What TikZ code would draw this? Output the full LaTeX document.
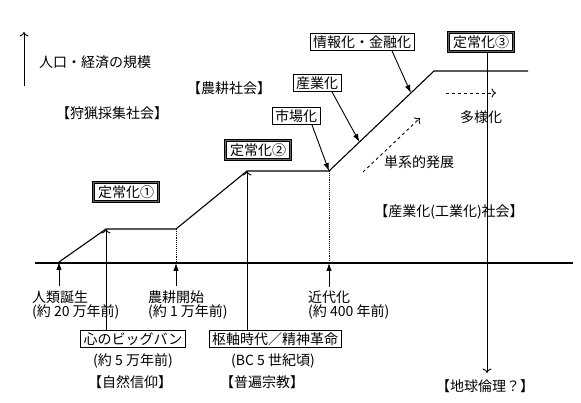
\documentclass[tikz,border=0pt]{standalone}
\usepackage{fontspec}
\setmainfont{Noto Sans CJK JP}
\usetikzlibrary{calc}
\usetikzlibrary{arrows.meta}
\tikzset{>=latex}
\tikzstyle{steady} = [draw, line width=.7pt, double=black!60, double distance=1.8pt, fill=white, inner xsep=4.5pt, inner ysep=3pt]
\tikzstyle{tag} = [draw, line width=.9pt, fill=white, inner xsep=3pt, inner ysep=2pt]
\tikzstyle{note} = [inner sep=0pt]
\tikzstyle{curve} = [line width=1.1pt]
\tikzstyle{guide} = [densely dotted, line width=.9pt]
\tikzstyle{pointer} = [-{Latex[length=8pt,width=5.5pt]}, line width=.9pt]
\tikzstyle{openptr} = [-{To[length=4.5pt,width=9pt]}, line width=.9pt]
\tikzstyle{trend} = [dashed, -{To[length=4.5pt,width=9pt]}, line width=.9pt]

\begin{document}
\begin{tikzpicture}[x=1pt, y=-1pt, font=\fontsize{14}{14.5}\selectfont]
    \useasboundingbox (0,0) rectangle (581,403);
    % growth curve
    \coordinate (p0) at (59,262);
    \coordinate (p1) at (106,229);
    \coordinate (p2) at (176,229);
    \coordinate (p3) at (247,171);
    \coordinate (p4) at (329,171);
    \coordinate (p5) at (434,71);
    \coordinate (p6) at (528,71);
    \coordinate (axL) at (35,263);
    \coordinate (axR) at (573,263);
    \coordinate (f2) at (176,263);
    \coordinate (f4) at (329,263);
    \draw[curve] (axL) -- (axR);
    \draw[curve] (p0) -- (p1) -- (p2) -- (p3) -- (p4) -- (p5) -- (p6);
    \draw[guide] (p2) -- (f2);
    \draw[guide] (p4) -- (f4);

    % vertical scale
    \coordinate (yb) at (24,86);
    \coordinate (yt) at (24,32);
    \draw[openptr] (yb) -- (yt);
    \node[note] (scale) at (95,62) {人口・経済の規模};

    % societies
    \node[note] (hunt) at (112,113) {【狩猟採集社会】};
    \node[note] (farm) at (229,88) {【農耕社会】};
    \node[note] (indus) at (449,212) {【産業化(工業化)社会】};

    % steady states
    \node[steady] (st1) at (126,192) {定常化①};
    \node[steady] (st2) at (258,150) {定常化②};
    \node[steady] (st3) at (481,42) {定常化③};

    % callouts on the curve
    \node[tag] (mkt) at (296,116) {市場化};
    \node[tag] (ind) at (317,83) {産業化};
    \node[tag] (info) at (362,42) {情報化・金融化};
    \coordinate (q1) at ($(p4)!0.29!(p5)$);
    \coordinate (q2) at ($(p4)!0.78!(p5)$);
    \draw[pointer] ([xshift=16pt]mkt.south) -- (p4);
    \draw[pointer] ([xshift=15pt]ind.south) -- (q1);
    \draw[pointer] ([xshift=30pt]info.south) -- (q2);

    % events on the time axis
    \coordinate (a0) at (59,286);
    \coordinate (a2) at (176,286);
    \coordinate (a4) at (329,287);
    \draw[pointer] (a0) -- (p0);
    \draw[pointer] (a2) -- (f2);
    \draw[pointer] (a4) -- (f4);
    \node[note, align=left, anchor=west] (birth) at (32,305) {人類誕生\\(約 20 万年前)};
    \node[note, align=left, anchor=west] (agri) at (148,305) {農耕開始\\(約 1 万年前)};
    \node[note, align=left, anchor=west] (modern) at (308,305) {近代化\\(約 400 年前)};

    % revolutions of the mind
    \node[tag] (mind) at (133,339) {心のビッグバン};
    \node[tag] (axial) at (275,339) {枢軸時代／精神革命};
    \draw[openptr] ([xshift=-27pt]mind.north) -- (p1);
    \draw[openptr] ([xshift=-28pt]axial.north) -- (p3);
    \node[note] (mindage) at (133,361) {(約 5 万年前)};
    \node[note] (nature) at (130,382) {【自然信仰】};
    \node[note] (axialage) at (273,361) {(BC 5 世紀頃)};
    \node[note] (world) at (262,382) {【普遍宗教】};

    % third steady state
    \coordinate (gEnd) at (487,373);
    \draw[openptr] ([xshift=6pt]st3.south) -- (gEnd);
    \node[note] (earth) at (485,386) {【地球倫理？】};

    % directions of development
    \coordinate (u0) at (363,172);
    \coordinate (u1) at (420,118);
    \draw[trend] (u0) -- (u1);
    \node[note] (mono) at (419,162) {単系的発展};
    \coordinate (d0) at (446,93);
    \coordinate (d1) at (496,93);
    \draw[trend] (d0) -- (d1);
    \node[note] (div) at (481,117) {多様化};
\end{tikzpicture}
\end{document}
